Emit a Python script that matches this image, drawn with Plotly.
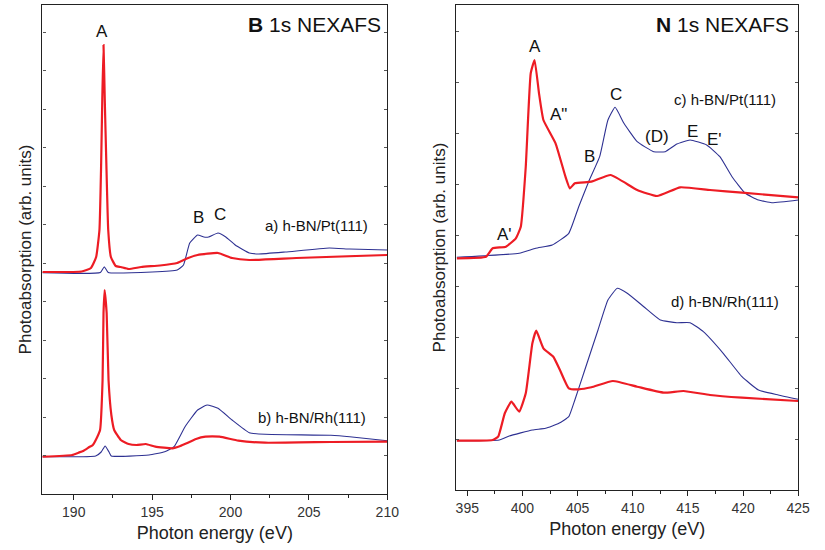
import plotly.graph_objects as go

# ---------------- B 1s NEXAFS (left panel) ----------------
b_pt_red_e = [188.0, 190.5, 191.1, 191.43, 191.64, 191.75, 191.82, 191.9, 191.98, 192.08, 192.2, 192.37,
              192.68, 193.0, 193.5, 194.3, 195.5, 196.6, 197.3, 197.9, 199.2, 200.1, 201.2, 204.2, 210.0]
b_pt_red_i = [222, 222.5, 226, 237, 264, 331, 394, 449, 394, 331, 264, 237,
              228, 227, 225, 227, 228.5, 231, 236, 239, 241, 236, 234, 236, 239]

b_pt_blue_e = [188.0, 191.7, 191.95, 192.2, 195.0, 196.6, 197.0, 197.4, 197.9, 198.3, 198.6, 199.2,
               199.7, 200.3, 201.2, 201.8, 203.5, 206.3, 207.6, 210.0]
b_pt_blue_i = [221.3, 221.5, 227.3, 221.5, 222, 224, 229, 251, 259, 257, 257, 261,
               257, 249, 241, 240, 242, 246, 245, 244]

b_rh_red_e = [188.0, 189.9, 190.3, 190.6, 191.0, 191.22, 191.5, 191.68, 191.84, 191.9, 191.97, 192.1,
              192.22, 192.4, 192.58, 193.0, 193.5, 194.0, 194.6, 195.2, 196.3, 196.8, 197.2, 197.8,
              198.4, 199.3, 200.5, 202.2, 206.4, 210.0]
b_rh_red_i = [37.3, 39, 41.3, 43, 47, 49, 57, 64, 114, 181, 204, 181,
              114, 79, 64, 54, 50, 49, 50, 47.3, 45.7, 48, 50.7, 55,
              57.3, 57.3, 53.3, 51.3, 52, 52.3]

b_rh_blue_e = [188.0, 191.4, 191.75, 192.0, 192.25, 192.4, 194.8, 195.8, 196.4, 197.1, 197.9, 198.5,
               199.2, 200.1, 201.2, 202.2, 206.4, 207.6, 210.0]
b_rh_blue_i = [37.3, 38, 42, 48, 42, 38, 39, 42.3, 47.3, 67.3, 84, 89,
               85.7, 74, 61.3, 59.7, 58.7, 57.3, 53.3]

# ---------------- N 1s NEXAFS (right panel) ----------------
n_pt_red_e = [394.05, 396.7, 397.3, 398.5, 399.4, 399.85, 400.3, 400.75, 401.1, 401.5, 401.9, 403.0,
              403.9, 404.3, 404.75, 406.25, 408.0, 410.4, 412.2, 414.3, 417.0, 419.9, 425.0]
n_pt_red_i = [231.7, 233.3, 241.7, 243.3, 251.7, 263.3, 323.3, 416.7, 430, 396.7, 370, 346.7,
              313.3, 301.7, 306.7, 308.3, 315, 300, 294, 302.7, 300, 297.3, 292.7]

n_pt_blue_e = [394.05, 399.7, 401.2, 402.7, 404.2, 405.1, 406.0, 407.0, 407.75, 408.4, 409.2, 410.4,
               411.9, 412.95, 414.0, 415.2, 416.7, 417.9, 419.0, 420.2, 421.4, 422.6, 425.0]
n_pt_blue_i = [232.7, 236.7, 241.7, 245, 256.7, 283.3, 308.3, 333.3, 370, 382.7, 366.7, 348.3,
               338.3, 338.3, 346, 350, 345, 333.3, 313.3, 296.7, 290, 287.3, 290]

n_rh_red_e = [394.05, 397.3, 397.8, 398.4, 399.0, 399.7, 400.3, 400.9, 401.25, 401.9, 402.8, 403.4,
              404.2, 405.1, 406.25, 408.2, 410.4, 412.8, 414.6, 417.0, 419.9, 425.0]
n_rh_red_i = [49.3, 50, 53.3, 76.7, 88.3, 78.3, 96.7, 146.7, 159.3, 141.7, 133.3, 120,
              101.7, 100.7, 102.7, 109, 103.3, 97.3, 99, 95, 92.3, 89]

n_rh_blue_e = [394.05, 397.9, 398.8, 400.9, 402.1, 403.3, 404.2, 404.75, 405.65, 406.85, 407.75, 408.6,
               409.5, 411.0, 412.5, 414.0, 415.2, 416.4, 418.2, 419.9, 421.4, 423.2, 425.0]
n_rh_blue_i = [49.3, 50, 54, 60, 61.7, 66.7, 73.3, 90, 120, 160, 190, 201.7,
               196.7, 183.3, 170, 167.3, 167.3, 158.3, 136.7, 113.3, 100, 95, 90.7]

x_ticks_b = [190, 195, 200, 205, 210]
x_ticks_n = [395, 400, 405, 410, 415, 420, 425]

RED = "#ED1C24"
BLUE = "#2E3192"
FONT = "Liberation Sans, Arial, sans-serif"

fig = go.Figure()

def add(x, y, color, width, xa, ya):
    fig.add_trace(go.Scatter(x=x, y=y, mode="lines", xaxis=xa, yaxis=ya, showlegend=False,
                             line=dict(color=color, width=width, shape="spline", smoothing=0.4),
                             hoverinfo="skip"))

add(b_pt_blue_e, b_pt_blue_i, BLUE, 1.1, "x", "y")
add(b_pt_red_e, b_pt_red_i, RED, 2.2, "x", "y")
add(b_rh_blue_e, b_rh_blue_i, BLUE, 1.1, "x", "y")
add(b_rh_red_e, b_rh_red_i, RED, 2.2, "x", "y")
add(n_pt_blue_e, n_pt_blue_i, BLUE, 1.1, "x2", "y2")
add(n_pt_red_e, n_pt_red_i, RED, 2.2, "x2", "y2")
add(n_rh_blue_e, n_rh_blue_i, BLUE, 1.1, "x2", "y2")
add(n_rh_red_e, n_rh_red_i, RED, 2.2, "x2", "y2")

W, H = 825, 550
xcommon = dict(showgrid=False, zeroline=False, showline=True, linecolor="#222", linewidth=1.3,
               mirror=True, ticks="outside", ticklen=5, tickcolor="#222",
               tickfont=dict(family=FONT, size=14, color="#333"),
               title=dict(text="Photon energy (eV)", font=dict(family=FONT, size=18, color="#222"),
                          standoff=7))
ycommon = dict(showgrid=False, zeroline=False, showline=True, linecolor="#222", linewidth=1.3,
               mirror="allticks", ticks="inside", ticklen=3, tickcolor="#555",
               showticklabels=False)
ytitle = dict(text="Photoabsorption (arb. units)", font=dict(family=FONT, size=17, color="#222"),
              standoff=5)
topcommon = dict(showgrid=False, zeroline=False, showline=False, side="top",
                 ticks="inside", ticklen=3, tickcolor="#555", showticklabels=False)

LDOM = [43 / W, 393 / W]
RDOM = [463 / W, 810 / W]

fig.update_layout(
    width=W, height=H, margin=dict(l=0, r=0, t=0, b=0),
    paper_bgcolor="white", plot_bgcolor="white",
    xaxis=dict(xcommon, domain=LDOM, range=[188, 210], tickvals=x_ticks_b,
               minor=dict(ticks="outside", ticklen=3, tickcolor="#222", dtick=2.5, tick0=187.5),
               anchor="y"),
    yaxis=dict(ycommon, domain=[1 - 494 / H, 1 - 5 / H], range=[0, 489], tick0=0, dtick=38.5,
               anchor="x", title=ytitle),
    xaxis2=dict(xcommon, domain=RDOM, range=[394, 425], tickvals=x_ticks_n,
                minor=dict(ticks="outside", ticklen=3, tickcolor="#222", dtick=2.5, tick0=392.5),
                anchor="y2"),
    yaxis2=dict(ycommon, domain=[1 - 490 / H, 1 - 5 / H], range=[0, 485], tick0=0, dtick=51,
                anchor="x2", title=ytitle),
    xaxis3=dict(topcommon, overlaying="x", anchor="y", range=[188, 210], tickvals=x_ticks_b,
                minor=dict(ticks="inside", ticklen=2, tickcolor="#777", dtick=2.5, tick0=187.5)),
    xaxis4=dict(topcommon, overlaying="x2", anchor="y2", range=[394, 425], tickvals=x_ticks_n,
                minor=dict(ticks="inside", ticklen=2, tickcolor="#777", dtick=2.5, tick0=392.5)),
)

def label(text, x, y, xref, yref, size=17, xanchor="center"):
    fig.add_annotation(text=text, x=x, y=y, xref=xref, yref=yref, showarrow=False,
                       xanchor=xanchor, yanchor="middle",
                       font=dict(family=FONT, size=size, color="#111"))

# left panel labels
label("A", 191.82, 462, "x", "y")
label("B", 197.97, 276, "x", "y")
label("C", 199.3, 279, "x", "y")
label("a) h-BN/Pt(111)", 205.5, 268, "x", "y", size=15)
label("b) h-BN/Rh(111)", 205.2, 77, "x", "y", size=15)
label("<b>B</b> 1s NEXAFS", 389 / W, 1 - 25 / H, "paper", "paper", size=21, xanchor="right")

# right panel labels
label("A", 401.15, 443, "x2", "y2")
label("A\"", 403.3, 375, "x2", "y2")
label("A'", 398.4, 255, "x2", "y2")
label("B", 406.1, 333, "x2", "y2")
label("C", 408.5, 395, "x2", "y2")
label("(D)", 412.2, 353, "x2", "y2")
label("E", 415.4, 358, "x2", "y2")
label("E'", 417.4, 350, "x2", "y2")
label("c) h-BN/Pt(111)", 418.4, 390, "x2", "y2", size=15)
label("d) h-BN/Rh(111)", 418.4, 189, "x2", "y2", size=15)
label("<b>N</b> 1s NEXAFS", 803 / W, 1 - 25 / H, "paper", "paper", size=21, xanchor="right")

fig.write_html("out.html")
